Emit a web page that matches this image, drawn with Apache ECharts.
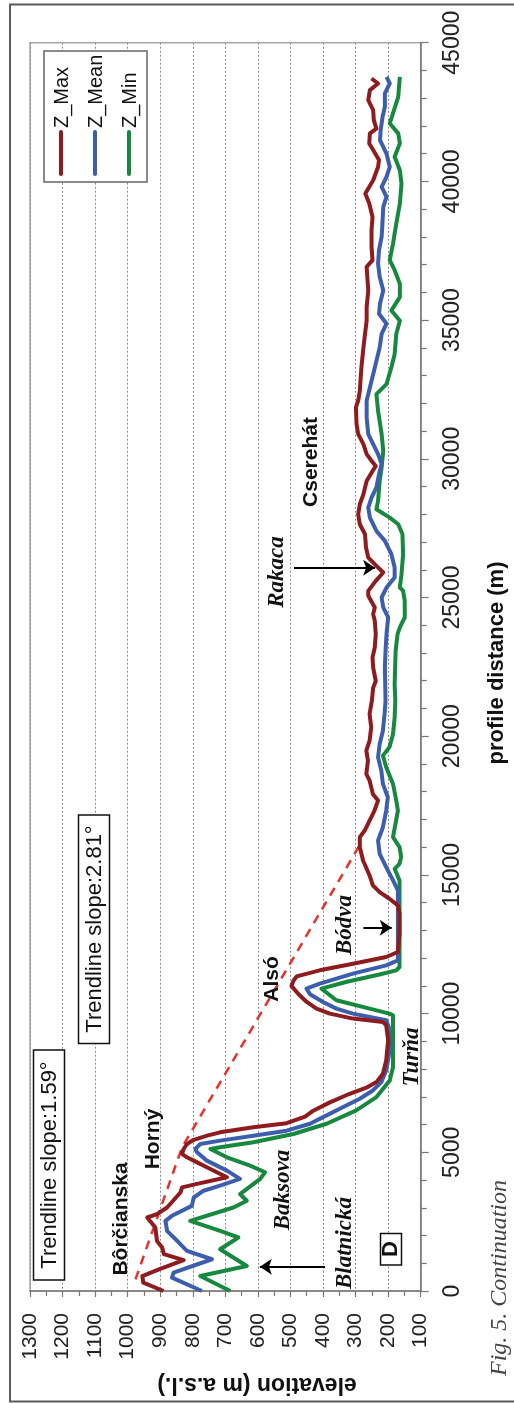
<!DOCTYPE html>
<html><head><meta charset="utf-8">
<script src="https://cdn.jsdelivr.net/npm/echarts@6/dist/echarts.min.js"></script>
<style>html,body{margin:0;padding:0;background:#fff}#c{width:514px;height:1403px}</style>
</head><body><div id="c"></div>
<script>
// ---- data (profile distance in m, elevation in m a.s.l.) ----
const maxDist = [0,300,540,800,1110,1330,1570,1800,2290,2530,2650,2770,3010,3550,3735,3860,4100,4460,4700,4820,4940,5120,5300,5450,5600,5720,5900,6050,6290,6500,6800,7110,7330,7530,7830,8310,9040,9580,9700,9820,10000,10180,10420,10700,11000,11200,11340,11560,11800,12040,12220,12880,13600,13900,14140,14380,14620,14980,15520,16000,16360,16600,16960,17320,17680,17920,18400,18640,19120,19480,19840,20320,20800,21280,21750,21990,22475,22840,23200,23680,24160,24400,24640,25060,25240,25600,25900,26140,26440,26800,27280,27640,28000,28360,28720,29200,29500,29740,29925,30170,30530,30890,31250,31850,32100,32450,32810,33300,33650,34000,34500,34975,35470,36070,36560,36920,37160,37640,38240,38720,39200,39560,40040,40520,40770,41130,41370,41730,41900,42210,42570,42930,43290,43530,43710];
const maxElev = [890,952,955,900,828,889,894,910,915,932,940,910,879,838,833,787,695,757,797,818,833,828,818,797,756,716,614,512,455,430,379,318,267,236,216,206,200,206,216,308,379,420,450,475,497,490,481,410,308,206,170,165,165,170,196,226,247,257,277,287,287,272,257,242,231,247,257,267,262,267,257,252,257,250,246,238,246,248,241,238,241,246,241,261,261,238,215,236,261,268,271,287,292,287,276,266,251,238,251,266,276,292,297,299,292,287,285,282,279,276,271,266,266,261,264,266,248,251,251,248,258,270,246,231,228,246,258,256,236,244,246,261,256,231,251];

const meanDist = [0,480,660,1145,1450,1810,2170,2530,2710,3070,3370,3615,3800,4040,4340,4700,5000,5120,5300,5420,5600,5780,6030,6330,6630,6930,7230,7530,7950,8680,9520,9760,9880,10000,10180,10420,10700,10900,11080,11440,11740,11920,12160,14440,14800,15280,15760,16240,16720,17320,17800,18280,18760,19240,19720,20200,20800,21270,22475,23080,23680,24280,24640,25000,25360,25720,26080,26560,27040,27400,27880,28240,28600,28970,29450,29810,30170,30530,30890,31490,32090,32570,33050,33530,34010,34500,34870,35230,35590,36070,36560,37040,37520,38000,38600,39080,39440,39800,40160,40520,41000,41490,41850,42330,42690,43170,43530,43770];
const meanElev = [772,864,859,741,818,848,879,884,864,803,797,767,716,655,695,757,787,792,777,716,614,512,440,389,338,287,247,221,206,195,198,206,257,308,359,400,440,451,410,308,206,170,170,170,185,206,226,231,216,206,201,216,221,231,226,216,211,208,210,208,205,200,215,220,205,180,180,190,210,236,256,261,251,236,228,220,231,246,261,266,266,256,246,236,226,220,205,228,225,215,226,231,228,220,217,215,205,220,205,195,205,225,223,217,210,210,195,205];

const minDist = [0,540,900,1505,1930,2170,2530,3010,3255,3495,4040,4280,4520,4820,5120,5180,5360,5660,6030,6510,6990,7590,8075,9940,10000,10180,10480,10900,11140,11400,11560,11680,14800,15220,15400,15640,16000,16360,17320,17680,18280,18880,19300,19600,20080,20680,21280,21870,23080,23680,23920,24280,24880,25240,25360,25840,26560,27280,27640,27880,28180,28480,29200,29690,30290,30890,31730,32330,32690,33300,33770,34500,34975,35350,35830,36310,36800,37160,37760,38480,39200,39920,40400,40890,41370,41730,42090,43050,43770];
const minElev = [685,777,634,716,660,716,808,675,634,655,593,578,624,695,746,716,614,491,389,298,236,195,185,185,196,257,359,405,330,230,175,165,165,180,165,160,165,185,170,175,185,206,216,196,185,180,178,180,177,171,164,149,149,154,164,159,154,156,169,195,236,231,226,220,215,220,231,236,205,190,180,175,164,190,164,164,180,195,185,175,164,159,164,180,164,169,195,169,164];

const trendDist = [420, 5180, 16180];
const trendElev = [976, 833, 282];

// arrows: [from elevation, to elevation, distance]
const arrowFrom = [394, 489, 276];
const arrowTo   = [594, 240, 189];
const arrowDist = [876, 26075, 13097];

const seriesNames = ['Z_Max', 'Z_Mean', 'Z_Min'];
const seriesColors = ['#8E1B1E', '#3D5DAE', '#17893E'];
const elevMin = 100, elevMax = 1300, elevStep = 100;
const distMin = 0, distMax = 45000, distStep = 5000;

const pair = (d, e) => d.map((v, i) => [e[i], v]);

const SANS = '"Liberation Sans", Arial, sans-serif';
const SERIF = '"Liberation Serif", "Times New Roman", serif';

function rt(text, x, y, font, extra) {
  return Object.assign({
    type: 'text', x: x, y: y, rotation: Math.PI / 2, z: 110,
    style: Object.assign({
      text: text, font: font, fill: '#111',
      align: 'center', verticalAlign: 'middle',
      textAlign: 'center', textVerticalAlign: 'middle'
    }, (extra && extra.style) || {})
  }, (extra && extra.el) || {});
}
function box(x, y, w, h, stroke) {
  return { type: 'rect', z: 105, shape: { x: x, y: y, width: w, height: h },
    style: { fill: '#fff', stroke: stroke || '#111', lineWidth: 1.5 } };
}

const chart = echarts.init(document.getElementById('c'), null, { renderer: 'canvas' });

const graphics = [
  // outer figure frame
  { type: 'polyline', z: 1, shape: { points: [[520, 4.5], [10, 4.5], [10, 1401.5], [520, 1401.5]] },
    style: { stroke: '#5a5a5a', lineWidth: 2, fill: null } },
  // legend
  box(44, 51, 103, 131, '#666'),
  box(33.5, 1050, 31, 230), box(78.5, 815, 31, 228.5), box(380.5, 1233.5, 21, 31.5),
  rt('Trendline slope:1.59°', 49.5, 1165, '22px ' + SANS),
  rt('Trendline slope:2.81°', 94.5, 929, '22px ' + SANS),
  rt('Bôrčianska', 121, 1219, 'bold 21px ' + SANS),
  rt('Horný', 153, 1139, 'bold 21px ' + SANS),
  rt('Alsó', 272, 979, 'bold 21px ' + SANS),
  rt('Cserehát', 311, 462, 'bold 21px ' + SANS),
  rt('Rakaca', 277, 572, 'italic bold 23px ' + SERIF),
  rt('Bódva', 345, 925, 'italic bold 23px ' + SERIF),
  rt('Baksova', 283, 1190, 'italic bold 23px ' + SERIF),
  rt('Blatnická', 345, 1243, 'italic bold 23px ' + SERIF),
  rt('Turňa', 412, 1057, 'italic bold 23px ' + SERIF),
  rt('D', 391, 1249, 'bold 22px ' + SANS),
  // axis titles and caption
  rt('elevation (m a.s.l.)', 257, 1384, 'bold 23px ' + SANS, { el: { rotation: Math.PI } }),
  rt('profile distance (m)', 497, 663, 'bold 22px ' + SANS),
  rt('Fig. 5. Continuation', 500, 1278, 'italic 24px ' + SERIF, { style: { fill: '#444' } })
];
// legend entries
const legendX = [61, 95, 129];
seriesNames.forEach((n, i) => {
  graphics.push({ type: 'line', z: 110, shape: { x1: legendX[i], y1: 132, x2: legendX[i], y2: 174 },
    style: { stroke: seriesColors[i], lineWidth: 4, lineCap: 'round' } });
  graphics.push(rt(n, legendX[i] + 1, 128, '20px ' + SANS, { style: { align: 'left', textAlign: 'left' } }));
});

const plain = v => String(v);

const option = {
  animation: false,
  backgroundColor: '#fff',
  grid: { left: 30, right: 93.3, top: 42.7, bottom: 112, show: true, borderColor: '#a8a8a8', borderWidth: 1.5, backgroundColor: 'transparent' },
  xAxis: {
    type: 'value', min: elevMin, max: elevMax, interval: elevStep, inverse: true,
    axisLine: { show: true, lineStyle: { color: '#777', width: 1.5 } },
    axisTick: { show: true, length: 6, lineStyle: { color: '#777', width: 1.2 } },
    minorTick: { show: true, splitNumber: 2, length: 5, lineStyle: { color: '#777', width: 1.2 } },
    splitLine: { show: true, lineStyle: { color: '#8a8a8a', width: 1, type: [2, 2] } },
    axisLabel: { rotate: 90, margin: 22, fontSize: 21, color: '#222', fontFamily: SANS, formatter: plain, showMinLabel: true, showMaxLabel: true }
  },
  yAxis: {
    type: 'value', position: 'right', min: distMin, max: distMax, interval: distStep,
    axisLine: { show: true, lineStyle: { color: '#777', width: 1.5 } },
    axisTick: { show: true, length: 8, lineStyle: { color: '#777', width: 1.2 } },
    minorTick: { show: true, splitNumber: 5, length: 6, lineStyle: { color: '#777', width: 1.2 } },
    splitLine: { show: false },
    axisLabel: { rotate: 90, margin: 20, fontSize: 23, color: '#222', fontFamily: SANS, formatter: plain, showMinLabel: true, showMaxLabel: true }
  },
  series: [
    { name: 'trend', type: 'line', data: pair(trendDist, trendElev), symbol: 'none', z: 3,
      lineStyle: { color: '#E8302A', width: 2.5, type: [9, 7] } },
    { name: seriesNames[2], type: 'line', data: pair(minDist, minElev), symbol: 'none', z: 4,
      lineStyle: { color: seriesColors[2], width: 4, join: 'round' } },
    { name: seriesNames[1], type: 'line', data: pair(meanDist, meanElev), symbol: 'none', z: 5,
      lineStyle: { color: seriesColors[1], width: 4, join: 'round' } },
    { name: seriesNames[0], type: 'line', data: pair(maxDist, maxElev), symbol: 'none', z: 6,
      lineStyle: { color: seriesColors[0], width: 4, join: 'round' } },
    { name: 'arrows', type: 'lines', coordinateSystem: 'cartesian2d', z: 8,
      symbol: ['none', 'arrow'], symbolSize: 12,
      lineStyle: { color: '#000', width: 2, opacity: 1 },
      data: arrowDist.map((d, i) => ({ coords: [[arrowFrom[i], d], [arrowTo[i], d]] })) }
  ],
  graphic: { elements: graphics }
};
chart.setOption(option);
</script>
</body></html>
